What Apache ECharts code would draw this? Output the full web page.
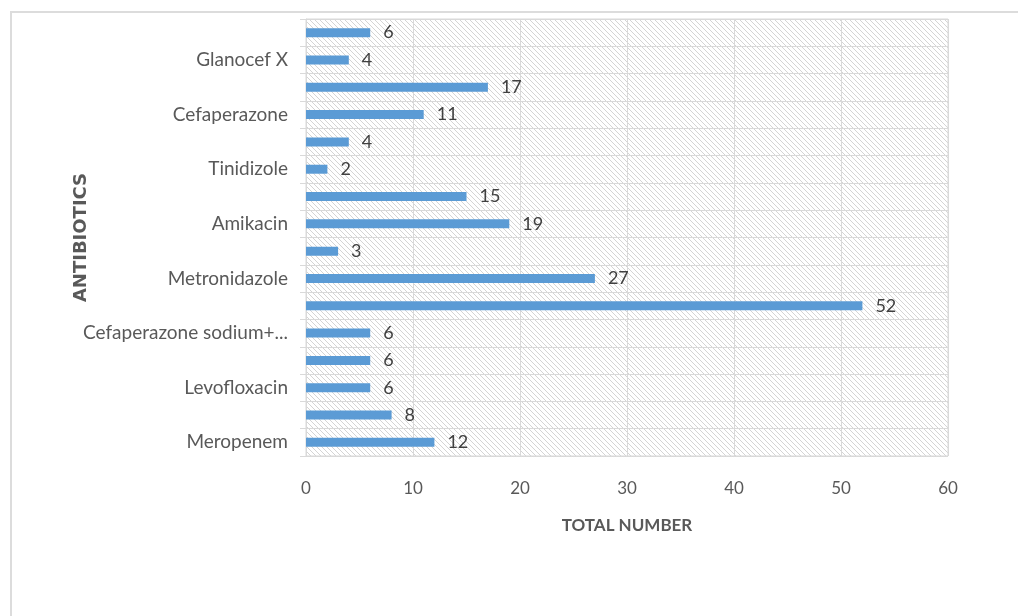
<!DOCTYPE html>
<html>
<head>
<meta charset="utf-8">
<script src="https://cdn.jsdelivr.net/npm/echarts@6/dist/echarts.min.js"></script>
<style>
html,body{margin:0;padding:0;background:#fff;}
#chart{width:1018px;height:616px;}
</style>
</head>
<body>
<div id="chart"></div>
<script>
// Categories listed bottom to top; unlabeled rows in the original are hidden by the label interval
const categories = [
  'Meropenem', 'row 2', 'Levofloxacin', 'row 4', 'Cefaperazone sodium+...', 'row 6',
  'Metronidazole', 'row 8', 'Amikacin', 'row 10', 'Tinidizole', 'row 12',
  'Cefaperazone', 'row 14', 'Glanocef X', 'row 16'
];
const values = [12, 8, 6, 6, 6, 52, 27, 3, 19, 15, 2, 4, 11, 17, 4, 6];
const xTicks = { min: 0, max: 60, interval: 10 };

// hatched background pattern
const tile = document.createElement('canvas');
tile.width = 5; tile.height = 5;
const tctx = tile.getContext('2d');
tctx.fillStyle = '#ffffff';
tctx.fillRect(0, 0, 5, 5);
tctx.fillStyle = '#d4d4d4';
for (let i = 0; i < 5; i++) tctx.fillRect(i, i, 1, 1);

const FONT = 'Lato, "Liberation Sans Narrow", "DejaVu Sans Condensed", sans-serif';
const chart = echarts.init(document.getElementById('chart'), null, { renderer: 'canvas' });
chart.setOption({
  animation: false,
  backgroundColor: '#ffffff',
  graphic: [{
    type: 'rect', silent: true, z: -10,
    shape: { x: 11, y: 12, width: 1020, height: 620 },
    style: { fill: 'none', stroke: '#dcdcdc', lineWidth: 2 }
  }],
  grid: {
    left: 306, right: 70, top: 19, bottom: 160,
    show: true,
    backgroundColor: { image: tile, repeat: 'repeat' },
    borderColor: '#d9d9d9', borderWidth: 1
  },
  xAxis: {
    type: 'value',
    min: xTicks.min, max: xTicks.max, interval: xTicks.interval,
    name: 'TOTAL NUMBER',
    nameLocation: 'middle',
    nameGap: 61,
    nameTextStyle: { fontFamily: FONT, fontWeight: 'bold', fontSize: 17, color: '#595959' },
    axisLine: { show: false },
    axisTick: { show: false },
    axisLabel: { fontFamily: FONT, fontSize: 17, color: '#595959', margin: 24 },
    splitLine: { show: true, lineStyle: { color: '#d9d9d9', width: 1 } }
  },
  yAxis: {
    type: 'category',
    data: categories,
    name: 'ANTIBIOTICS',
    nameLocation: 'middle',
    nameRotate: 90,
    nameGap: 216,
    nameMoveOverlap: false,
    nameTextStyle: { fontFamily: '"DejaVu Sans", sans-serif', fontWeight: 'bold', fontSize: 18, color: '#595959' },
    axisLine: { show: true, lineStyle: { color: '#d9d9d9', width: 1 } },
    axisTick: { show: true, interval: 0, length: 6, lineStyle: { color: '#d9d9d9' } },
    axisLabel: { interval: 1, fontFamily: FONT, fontSize: 19, color: '#595959', margin: 18 },
    splitLine: { show: true, interval: 0, lineStyle: { color: '#d9d9d9', width: 1 } }
  },
  series: [{
    type: 'bar',
    data: values,
    barWidth: 9,
    itemStyle: { color: '#5b9bd5' },
    label: {
      show: true, position: 'right', distance: 13,
      fontFamily: FONT, fontSize: 18, color: '#404040'
    }
  }]
});
</script>
</body>
</html>
